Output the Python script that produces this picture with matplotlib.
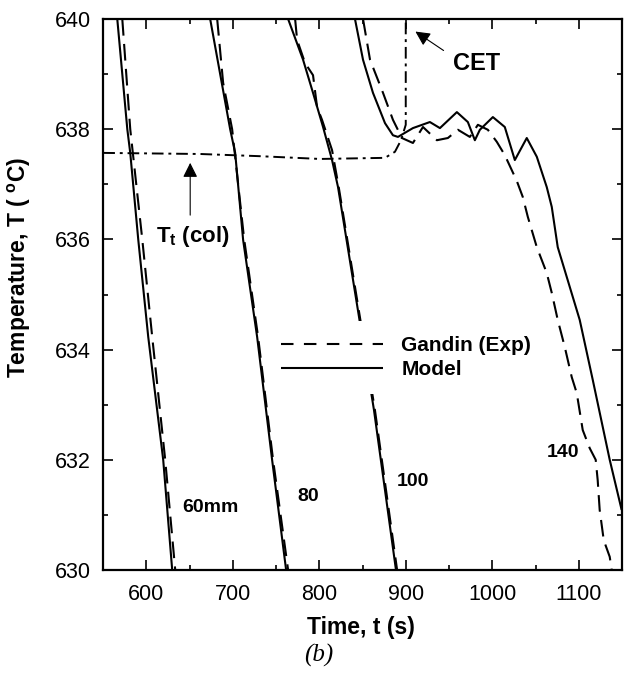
import matplotlib
matplotlib.use("Agg")
import matplotlib.pyplot as plt
from matplotlib.lines import Line2D
from matplotlib.ticker import MultipleLocator

plt.rcParams['font.family'] = ['Liberation Sans', 'DejaVu Sans']
plt.rcParams['mathtext.fontset'] = 'custom'
plt.rcParams['mathtext.rm'] = 'Liberation Sans:bold'
plt.rcParams['mathtext.it'] = 'Liberation Sans:bold'
plt.rcParams['mathtext.bf'] = 'Liberation Sans:bold'

# Cooling curves at four distances from the chill (time s, temperature degC)
t60_model = [566.5, 578.1, 581.5, 590.8, 602.3, 619.6, 630.0]
T60_model = [640.0, 638.0, 637.57, 635.99, 634.23, 632.0, 630.0]
t60_exp = [572.3, 581.5, 595.4, 606.9, 621.9, 633.5]
T60_exp = [640.0, 638.0, 636.0, 634.23, 632.0, 630.0]

t80_model = [673.9, 697.0, 702.8, 712.0, 728.2, 745.5, 761.7]
T80_model = [640.0, 638.0, 637.57, 635.99, 634.23, 632.0, 630.0]
t80_exp = [682.0, 688.9, 699.3, 713.2, 729.3, 746.6, 764.0]
T80_exp = [640.0, 638.84, 638.0, 636.0, 634.23, 632.0, 630.0]

t100_model = [764.0, 781.3, 792.8, 804.4, 814.8, 821.7, 846.0, 863.3, 888.7]
T100_model = [640.0, 639.26, 638.66, 638.04, 637.44, 636.95, 634.59, 632.90, 630.0]
t100_exp = [772.1, 774.4, 783.6, 792.8, 797.5, 803.2, 814.8, 822.5, 847.0, 864.4, 890.0]
T100_exp = [640.0, 639.62, 639.20, 638.98, 638.40, 638.17, 637.62, 636.95, 634.59, 632.90, 630.0]

t140_model = [841.3, 850.6, 862.1, 876.0, 885.2, 891.0, 908.3, 927.9, 939.5, 959.1,
              971.8, 979.9, 985.7, 1000.7, 1014.5, 1026.1, 1039.9, 1051.5, 1063.0,
              1068.8, 1075.7, 1086.1, 1101.1, 1116.2, 1135.8, 1149.6]
T140_model = [640.0, 639.26, 638.66, 638.11, 637.89, 637.86, 638.02, 638.13, 638.02, 638.31,
              638.13, 637.80, 637.99, 638.22, 638.04, 637.44, 637.84, 637.50, 636.95,
              636.59, 635.86, 635.32, 634.54, 633.45, 632.0, 631.09]
t140_exp = [850.6, 858.7, 873.7, 885.2, 895.6, 908.3, 919.9, 936.0, 948.7, 960.3,
            974.1, 983.4, 994.9, 1005.3, 1014.5, 1028.4, 1035.3, 1041.1, 1051.5, 1063.0,
            1068.8, 1075.7, 1083.8, 1091.9, 1097.7, 1104.6, 1112.7, 1119.6, 1121.9,
            1124.2, 1128.9, 1135.8, 1138.1]
T140_exp = [640.0, 639.26, 638.66, 638.17, 637.84, 637.75, 638.04, 637.80, 637.84, 637.99,
            637.86, 638.08, 637.99, 637.77, 637.53, 637.06, 636.77, 636.41, 635.86, 635.39,
            635.03, 634.54, 634.05, 633.50, 633.21, 632.54, 632.21, 632.0, 631.63,
            631.09, 630.54, 630.24, 630.0]

# Columnar tip temperature, turning vertical at the CET position
t_col = [550.3, 662.4, 731.6, 800.9, 876.0, 887.5, 894.5, 900.0, 900.0]
T_col = [637.57, 637.55, 637.51, 637.46, 637.48, 637.59, 637.80, 638.08, 640.0]

curve_labels = ["60mm", "80", "100", "140"]
label_t = [673.9, 787.0, 908.3, 1081.5]
label_T = [631.13, 631.33, 631.60, 632.14]

fig = plt.figure(figsize=(6.36, 6.74), dpi=100)
ax = fig.add_axes([103 / 636, 1 - 570 / 674, 519 / 636, 551 / 674])

model_kw = dict(color='black', lw=1.5, solid_capstyle='butt')
exp_kw = dict(color='black', lw=1.5, linestyle=(0, (8, 4)))

for tm, Tm, te, Te in [(t60_model, T60_model, t60_exp, T60_exp),
                       (t80_model, T80_model, t80_exp, T80_exp),
                       (t100_model, T100_model, t100_exp, T100_exp),
                       (t140_model, T140_model, t140_exp, T140_exp)]:
    ax.plot(te, Te, zorder=2, **exp_kw)
    ax.plot(tm, Tm, zorder=2, **model_kw)

ax.plot(t_col, T_col, color='black', lw=1.4, linestyle=(0, (6, 2.5, 1.5, 2.5)), zorder=2)

for txt, x, y in zip(curve_labels, label_t, label_T):
    ax.text(x, y, txt, fontsize=14, fontweight='bold', ha='center', va='center')

# Annotations
ax.annotate('', xy=(908.5, 639.80), xytext=(946.4, 639.40),
            arrowprops=dict(arrowstyle='-|>', color='black', lw=0.8, mutation_scale=22))
ax.text(982, 639.20, 'CET', fontsize=17, fontweight='bold', ha='center', va='center')

ax.annotate('', xy=(650.8, 637.44), xytext=(650.8, 636.39),
            arrowprops=dict(arrowstyle='-|>', color='black', lw=0.8, mutation_scale=22))
ax.text(654.1, 636.06, r'T$_\mathrm{t}$ (col)', fontsize=16, fontweight='bold',
        ha='center', va='center')

ax.set_xlim(550, 1150)
ax.set_ylim(630, 640)
ax.xaxis.set_major_locator(MultipleLocator(100))
ax.xaxis.set_minor_locator(MultipleLocator(50))
ax.yaxis.set_major_locator(MultipleLocator(2))
ax.yaxis.set_minor_locator(MultipleLocator(1))
ax.tick_params(which='both', direction='in', top=True, right=True, width=1.2)
ax.tick_params(which='major', length=7, labelsize=15.5)
ax.tick_params(which='minor', length=3.5)
ax.tick_params(axis='x', pad=10)
ax.tick_params(axis='y', pad=9)
for s in ax.spines.values():
    s.set_linewidth(1.6)

ax.set_xlabel('Time, t (s)', fontsize=16.5, fontweight='bold', va='top')
ax.xaxis.set_label_coords(0.497, -0.083)
ax.set_ylabel(r'Temperature, T ( $^\mathrm{o}$C)', fontsize=16.5, fontweight='bold')
ax.yaxis.set_label_coords(-0.135, 0.549)

handles = [Line2D([], [], color='black', lw=1.5, linestyle=(0, (6, 5))),
           Line2D([], [], **model_kw)]
leg = ax.legend(handles, ['Gandin (Exp)', 'Model'], loc='upper left',
                bbox_to_anchor=(0.294, 0.470), frameon=True, fancybox=False,
                edgecolor='none', facecolor='white', framealpha=1.0,
                borderpad=0.7, handlelength=4.9, handletextpad=0.9,
                labelspacing=0.25, prop={'weight': 'bold', 'size': 15})
leg.set_zorder(3)

fig.text(319 / 636, 1 - 655 / 674, '(b)', fontsize=18, style='italic',
         family='Liberation Serif', ha='center', va='center')

fig.savefig('out.png', dpi=100)
